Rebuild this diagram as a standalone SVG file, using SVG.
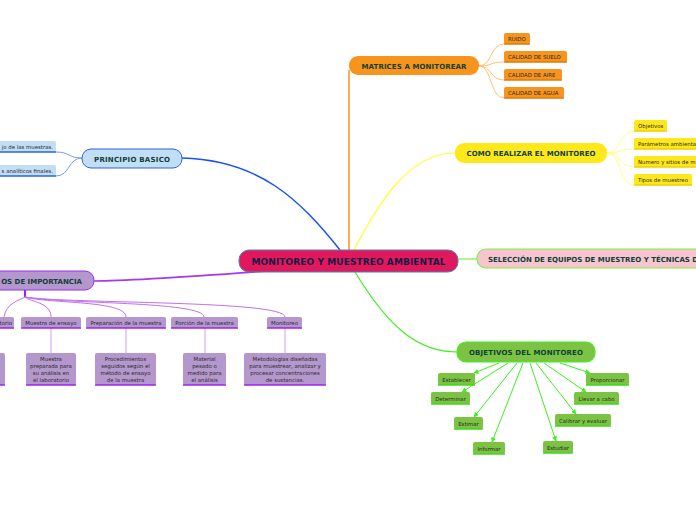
<svg xmlns="http://www.w3.org/2000/svg" width="696" height="520" viewBox="0 0 696 520">
<defs>
<marker id="ag" viewBox="0 0 10 10" refX="9" refY="5" markerWidth="5" markerHeight="5" orient="auto"><path d="M0,0 L10,5 L0,10 z" fill="#3cf01e"/></marker>
<style>
text{font-family:"DejaVu Sans","Verdana",sans-serif}
.t{font-weight:bold;font-size:7px;fill:#0f4038;text-anchor:middle}
.te{font-weight:bold;font-size:7px;fill:#0f4038;text-anchor:end}
.s{font-size:5.4px;fill:#2a2a2a}
.se{font-size:5.4px;fill:#2a2a2a;text-anchor:end}
.sm{font-size:5.4px;fill:#2a2a2a;text-anchor:middle}
.c{fill:none}
.or{fill:#f7941d}
.orl{stroke:#e07a00;stroke-width:1.5}
.ye{fill:#ffe81a}
.yel{stroke:#f0d000;stroke-width:1.5}
.bl{fill:#c2def4}
.bll{stroke:#2a62e0;stroke-width:1.5}
.pu{fill:#b497cc}
.pul{stroke:#a020f0;stroke-width:1.5}
.gr{fill:#7cc343}
.grl{stroke:#3ed81a;stroke-width:1.5}
</style>
</defs>
<g id="connectors" class="c">
<path d="M349,251 V70" stroke="#f7941d" stroke-width="1.5"/>
<path d="M479,66 C492,66 490,44 504,44 M479,66 C492,66 490,62 504,62 M479,66 C492,66 490,80 504,80 M479,66 C492,66 490,98 504,98" stroke="#ffc26e" stroke-width="1"/>
<path d="M354,250 C380,200 410,153 455,153" stroke="#ffff33" stroke-width="1.2"/>
<path d="M607,153 C622,153 618,131 634,131 M607,153 C622,153 618,149 634,149 M607,153 C622,153 618,167 634,167 M607,153 C622,153 618,185 634,185" stroke="#ffff80" stroke-width="1"/>
<path d="M182,158 C260,160 300,200 340,250" stroke="#1a50f0" stroke-width="1.5"/>
<path d="M82,158 C68,158 70,152 56,152 M82,158 C68,158 70,176 56,176" stroke="#7a9cf0" stroke-width="1"/>
<path d="M268,271 C200,276 130,281 94,281" stroke="#a636f0" stroke-width="1.5"/>
<path d="M25,290 V297" stroke="#a020f0" stroke-width="2"/>
<path d="M25,297 C20,300 6,303 4,317 M25,297 C30,302 51,302 51,317 M25,297 C50,304 126,300 126,317 M25,297 C60,304 204,301 204,317 M25,297 C70,304 285,300 285,317" stroke="#c070f0" stroke-width="1"/>
<path d="M51,328 V353 M126,328 V353 M205,328 V353 M285,328 V353" stroke="#d49cf0" stroke-width="1"/>
<path d="M458,259 H477" stroke="#80f040" stroke-width="1.2"/>
<path d="M355,272 C390,330 420,352 457,352" stroke="#3cf01e" stroke-width="1.2"/>
<g stroke="#3cf01e" stroke-width="1" marker-end="url(#ag)">
<path d="M499,363 L474,373"/>
<path d="M508,363 L462,392"/>
<path d="M517,363 L474,417"/>
<path d="M523,363 L492,442"/>
<path d="M530,363 L556,441"/>
<path d="M536,363 L576,414"/>
<path d="M544,363 L586,392"/>
<path d="M560,363 L590,373"/>
</g>
</g>
<g id="main">
<rect x="239" y="250" width="219" height="22" rx="10" fill="#e2185c" stroke="#4b82c4" stroke-width="1"/>
<text x="348.5" y="264.5" text-anchor="middle" font-weight="bold" font-size="9" fill="#151845" textLength="194">MONITOREO Y MUESTREO AMBIENTAL</text>
</g>
<g id="matrices">
<rect x="349" y="56" width="130" height="19" rx="9" class="or"/>
<text x="414" y="68.5" class="t" textLength="105">MATRICES A MONITOREAR</text>
</g>
<g id="ruido"><rect x="504" y="33" width="26" height="11" rx="2" class="or"/><line x1="504" y1="44" x2="530" y2="44" class="orl"/><text x="508" y="41" class="s">RUIDO</text></g>
<g id="suelo"><rect x="504" y="51" width="63" height="11" rx="2" class="or"/><line x1="504" y1="62" x2="567" y2="62" class="orl"/><text x="508" y="59" class="s">CALIDAD DE SUELO</text></g>
<g id="aire"><rect x="504" y="69" width="58" height="11" rx="2" class="or"/><line x1="504" y1="80" x2="562" y2="80" class="orl"/><text x="508" y="77" class="s">CALIDAD DE AIRE</text></g>
<g id="agua"><rect x="504" y="87" width="60" height="11" rx="2" class="or"/><line x1="504" y1="98" x2="564" y2="98" class="orl"/><text x="508" y="95" class="s">CALIDAD DE AGUA</text></g>
<g id="como">
<rect x="455" y="143" width="152" height="20" rx="9" class="ye"/>
<text x="531" y="155.5" class="t" textLength="129">COMO REALIZAR EL MONITOREO</text>
</g>
<g id="objetivos"><rect x="634" y="120" width="33" height="11" rx="2" class="ye"/><line x1="634" y1="131" x2="667" y2="131" class="yel"/><text x="638" y="128" class="s">Objetivos</text></g>
<g id="parametros"><rect x="634" y="138" width="70" height="11" rx="2" class="ye"/><line x1="634" y1="149" x2="704" y2="149" class="yel"/><text x="638" y="146" class="s">Parámetros ambienta</text></g>
<g id="numero"><rect x="634" y="156" width="70" height="11" rx="2" class="ye"/><line x1="634" y1="167" x2="704" y2="167" class="yel"/><text x="638" y="164" class="s">Numero y sitios de m</text></g>
<g id="tipos"><rect x="634" y="174" width="58" height="11" rx="2" class="ye"/><line x1="634" y1="185" x2="692" y2="185" class="yel"/><text x="638" y="182" class="s">Tipos de muestreo</text></g>
<g id="principio">
<rect x="82" y="149" width="100" height="19" rx="9" class="bl" stroke="#2a62e0" stroke-width="1"/>
<text x="132" y="161.5" class="t" textLength="76">PRINCIPIO BASICO</text>
</g>
<g id="manejo"><rect x="-5" y="141" width="61" height="11" rx="2" class="bl"/><line x1="-5" y1="152" x2="56" y2="152" class="bll"/><text x="53" y="149" class="se">jo de las muestras.</text></g>
<g id="resultados"><rect x="-5" y="165" width="61" height="11" rx="2" class="bl"/><line x1="-5" y1="176" x2="56" y2="176" class="bll"/><text x="53" y="173" class="se">s analíticos finales.</text></g>
<g id="conceptos">
<rect x="-20" y="271" width="114" height="19" rx="9" class="pu" stroke="#9a2ef0" stroke-width="1"/>
<text x="82" y="283.5" class="te">OS DE IMPORTANCIA</text>
</g>
<g id="laboratorio"><rect x="-5" y="317" width="19" height="11" rx="2" class="pu"/><line x1="-5" y1="328" x2="14" y2="328" class="pul"/><text x="12" y="325" class="se">torio</text></g>
<g id="ensayo"><rect x="21" y="317" width="60" height="11" rx="2" class="pu"/><line x1="21" y1="328" x2="81" y2="328" class="pul"/><text x="51" y="325" class="sm">Muestra de ensayo</text></g>
<g id="preparacion"><rect x="86" y="317" width="80" height="11" rx="2" class="pu"/><line x1="86" y1="328" x2="166" y2="328" class="pul"/><text x="126" y="325" class="sm">Preparación de la muestra</text></g>
<g id="porcion"><rect x="171" y="317" width="67" height="11" rx="2" class="pu"/><line x1="171" y1="328" x2="238" y2="328" class="pul"/><text x="204.5" y="325" class="sm">Porción de la muestra</text></g>
<g id="monitoreo"><rect x="267" y="317" width="35" height="11" rx="2" class="pu"/><line x1="267" y1="328" x2="302" y2="328" class="pul"/><text x="284.5" y="325" class="sm">Monitoreo</text></g>
<g id="def-lab"><rect x="-5" y="353" width="10" height="32" rx="2" class="pu"/><line x1="-5" y1="385" x2="5" y2="385" class="pul"/></g>
<g id="def-ensayo"><rect x="26" y="353" width="50" height="32" rx="2" class="pu"/><line x1="26" y1="385" x2="76" y2="385" class="pul"/>
<text class="sm"><tspan x="51" y="361">Muestra</tspan><tspan x="51" y="368">preparada para</tspan><tspan x="51" y="375">su análisis en</tspan><tspan x="51" y="382">el laboratorio</tspan></text></g>
<g id="def-preparacion"><rect x="95" y="353" width="61" height="32" rx="2" class="pu"/><line x1="95" y1="385" x2="156" y2="385" class="pul"/>
<text class="sm"><tspan x="125.5" y="361">Procedimientos</tspan><tspan x="125.5" y="368">seguidos según el</tspan><tspan x="125.5" y="375">método de ensayo</tspan><tspan x="125.5" y="382">de la muestra</tspan></text></g>
<g id="def-porcion"><rect x="183" y="353" width="43" height="32" rx="2" class="pu"/><line x1="183" y1="385" x2="226" y2="385" class="pul"/>
<text class="sm"><tspan x="204.5" y="361">Material</tspan><tspan x="204.5" y="368">pesado o</tspan><tspan x="204.5" y="375">medido para</tspan><tspan x="204.5" y="382">el análisis</tspan></text></g>
<g id="def-monitoreo"><rect x="244" y="353" width="82" height="32" rx="2" class="pu"/><line x1="244" y1="385" x2="326" y2="385" class="pul"/>
<text class="sm"><tspan x="285" y="361">Metodologías diseñadas</tspan><tspan x="285" y="368">para muestrear, analizar y</tspan><tspan x="285" y="375">procesar concentraciones</tspan><tspan x="285" y="382">de sustancias.</tspan></text></g>
<g id="seleccion">
<rect x="477" y="249" width="240" height="19" rx="9" fill="#f7c5d0" stroke="#80f040" stroke-width="1.2"/>
<text x="488" y="261.5" font-weight="bold" font-size="7" fill="#0f4038">SELECCIÓN DE EQUIPOS DE MUESTREO Y TÉCNICAS D</text>
</g>
<g id="objetivos-monitoreo">
<rect x="457" y="342" width="138" height="20" rx="9" class="gr" stroke="#44ee22" stroke-width="1.2"/>
<text x="526" y="354.5" class="t" textLength="114">OBJETIVOS DEL MONITOREO</text>
</g>
<g id="establecer"><rect x="438" y="373" width="37" height="12" rx="2" class="gr"/><line x1="438" y1="385" x2="475" y2="385" class="grl"/><text x="456.5" y="381.5" class="sm">Establecer</text></g>
<g id="determinar"><rect x="431" y="392" width="39" height="12" rx="2" class="gr"/><line x1="431" y1="404" x2="470" y2="404" class="grl"/><text x="450.5" y="400.5" class="sm">Determinar</text></g>
<g id="estimar"><rect x="454" y="417" width="29" height="12" rx="2" class="gr"/><line x1="454" y1="429" x2="483" y2="429" class="grl"/><text x="468.5" y="425.5" class="sm">Estimar</text></g>
<g id="informar"><rect x="473" y="442" width="32" height="12" rx="2" class="gr"/><line x1="473" y1="454" x2="505" y2="454" class="grl"/><text x="489" y="450.5" class="sm">Informar</text></g>
<g id="estudiar"><rect x="543" y="441" width="30" height="12" rx="2" class="gr"/><line x1="543" y1="453" x2="573" y2="453" class="grl"/><text x="558" y="449.5" class="sm">Estudiar</text></g>
<g id="calibrar"><rect x="555" y="414" width="56" height="12" rx="2" class="gr"/><line x1="555" y1="426" x2="611" y2="426" class="grl"/><text x="583" y="422.5" class="sm">Calibrar y evaluar</text></g>
<g id="llevar"><rect x="574" y="392" width="45" height="12" rx="2" class="gr"/><line x1="574" y1="404" x2="619" y2="404" class="grl"/><text x="596.5" y="400.5" class="sm">Llevar a cabo</text></g>
<g id="proporcionar"><rect x="586" y="373" width="43" height="12" rx="2" class="gr"/><line x1="586" y1="385" x2="629" y2="385" class="grl"/><text x="607.5" y="381.5" class="sm">Proporcionar</text></g>
</svg>
